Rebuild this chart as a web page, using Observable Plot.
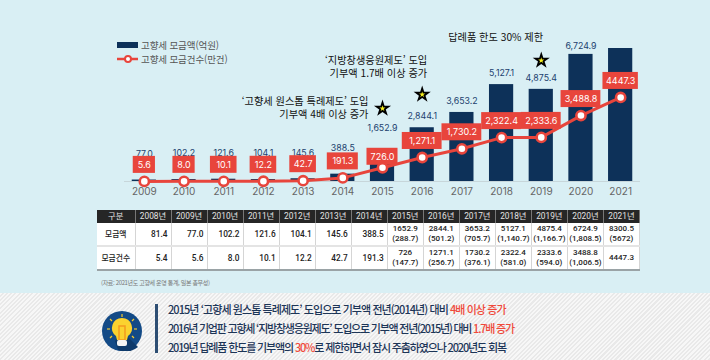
<!DOCTYPE html>
<html lang="ko"><head><meta charset="utf-8">
<script src="https://cdn.jsdelivr.net/npm/d3@7"></script>
<script src="https://cdn.jsdelivr.net/npm/@observablehq/plot@0.6"></script>
<style>
html,body{margin:0;padding:0;}
body{width:710px;height:360px;overflow:hidden;position:relative;background:#d9eff4;font-family:"Noto Sans CJK KR","Noto Sans",sans-serif;}
#chart{position:absolute;left:0;top:0;}
#chart svg{background:transparent;display:block;}
.legend{position:absolute;left:117px;font-size:9.5px;color:#555;line-height:14px;height:14px;display:flex;align-items:center;gap:3px;letter-spacing:-.1px;}
#tbl{position:absolute;left:97px;top:210px;border-collapse:collapse;table-layout:fixed;width:543px;font-family:"Roboto","Noto Sans CJK KR",sans-serif;font-size:8.3px;font-weight:500;color:#222;border-bottom:2px solid #9aa3a6;}
#tbl th{background:#262626;color:#e4e4e4;height:12.5px;padding:0;font-weight:400;border-right:1px solid #777;font-size:8.3px;line-height:12px;}
#tbl td{background:#fff;padding:0 3px;border-right:1px solid #d5d5d5;line-height:10px;text-align:right;height:22px;}
#tbl tr.r1 td{border-bottom:2px solid #e4e4e4;}
#tbl td.h,#tbl td.c{text-align:center;}
#tbl td.c{padding:0;font-size:8px;}
#tbl td.h{font-family:"Noto Sans CJK KR",sans-serif;padding:0;font-size:7.8px;}
#src{position:absolute;left:101px;top:278px;font-size:6px;color:#777;letter-spacing:-.35px;line-height:10px;}
#foot{position:absolute;left:0;top:293px;width:710px;height:67px;background:repeating-linear-gradient(135deg,#f7f7f7 0 1.5px,#e9e9e9 1.5px 3px);}
#vbar{position:absolute;left:155px;top:304px;width:3px;height:49px;background:#2d4e73;}
.note{position:absolute;left:168px;font-size:11px;font-weight:500;color:#1c3557;line-height:16px;white-space:nowrap;}
.note b{font-weight:500;color:#f0493a;}
#icon{position:absolute;left:102px;top:311px;}
</style></head><body>
<div id="chart"></div>
<div class="legend" style="top:38px"><svg width="21" height="6"><rect width="21" height="6" fill="#0d3159"/></svg><span>고향세 모금액(억원)</span></div>
<div class="legend" style="top:52px"><svg width="21" height="10"><line x1="0" x2="21" y1="5" y2="5" stroke="#e8453c" stroke-width="2.5"/><circle cx="11" cy="5" r="3" fill="#fff" stroke="#e8453c" stroke-width="2"/></svg><span>고향세 모금건수(만건)</span></div>
<table id="tbl"></table>
<div id="src">(자료: 2021년도 고향세 운영 통계, 일본 총무성)</div>
<div id="foot"></div>
<svg id="icon" width="40" height="40" viewBox="0 0 40 40">
<circle cx="20" cy="20" r="20" fill="#134a86"/>
<path d="M20 20 L36 36 A20 20 0 0 1 16 39 L13 30Z" fill="#0e3a6b"/>
<g stroke="#f6c92c" stroke-width="1.2"><line x1="20" y1="3" x2="20" y2="6"/><line x1="8" y1="8" x2="10" y2="10"/><line x1="32" y1="8" x2="30" y2="10"/><line x1="5" y1="18" x2="8" y2="18"/><line x1="35" y1="18" x2="32" y2="18"/><line x1="8" y1="27" x2="10" y2="25"/><line x1="32" y1="27" x2="30" y2="25"/></g>
<path d="M20 7 A10 10 0 0 1 26 25 L25 29 L15 29 L14 25 A10 10 0 0 1 20 7Z" fill="#fbd22f"/>
<rect x="17" y="15" width="6" height="14" fill="none" stroke="#f39a1f" stroke-width="1.5"/>
<rect x="15" y="29" width="10" height="6" rx="2" fill="#f4f4f4"/>
</svg>
<div id="vbar"></div>
<div class="note" style="top:301px;letter-spacing:-.93px">2015년 ‘고향세 원스톱 특례제도’ 도입으로 기부액 전년(2014년) 대비 <b>4배 이상 증가</b></div>
<div class="note" style="top:320px;letter-spacing:-1.22px">2016년 기업판 고향세 ‘지방창생응원제도’ 도입으로 기부액 전년(2015년) 대비 <b>1.7배 증가</b></div>
<div class="note" style="top:339px;letter-spacing:-1.15px">2019년 답례품 한도를 기부액의 <b>30%</b>로 제한하면서 잠시 주춤하였으나 2020년도 회복</div>
<script>
const years = ["2009","2010","2011","2012","2013","2014","2015","2016","2017","2018","2019","2020","2021"];
const amounts = [77.0,102.2,121.6,104.1,145.6,388.5,1652.9,2844.1,3653.2,5127.1,4875.4,6724.9,8300.5];
const counts = [5.6,8.0,10.1,12.2,42.7,191.3,726.0,1271.1,1730.2,2322.4,2333.6,3488.8,4447.3];
const amountLabels = ["77.0","102.2","121.6","104.1","145.6","388.5","1,652.9","2,844.1","3,653.2","5,127.1","4,875.4","6,724.9",""];
const countLabels = ["5.6","8.0","10.1","12.2","42.7","191.3","726.0","1,271.1","1,730.2","2,322.4","2,333.6","3,488.8","4447.3"];
const starYears = ["2015","2016","2019"];
const starLevels = [3860,4600,6400];

const tableHead = ["구분","2008년","2009년","2010년","2011년","2012년","2013년","2014년","2015년","2016년","2017년","2018년","2019년","2020년","2021년"];
const tableAmount = ["81.4","77.0","102.2","121.6","104.1","145.6","388.5","1652.9<br>(288.7)","2844.1<br>(501.2)","3653.2<br>(705.7)","5127.1<br>(1,140.7)","4875.4<br>(1,166.7)","6724.9<br>(1,808.5)","8300.5<br>(5672)"];
const tableCount = ["5.4","5.6","8.0","10.1","12.2","42.7","191.3","726<br>(147.7)","1271.1<br>(256.7)","1730.2<br>(376.1)","2322.4<br>(581.0)","2333.6<br>(594.0)","3488.8<br>(1,006.5)","4447.3"];

const rows = years.map((year,i)=>({year,amount:amounts[i],count:counts[i],amountLabel:amountLabels[i],countLabel:countLabels[i]}));
const numFont = "Inter, Roboto, sans-serif";
const krFont = '"Noto Sans CJK KR", sans-serif';

const amountLift = y => y<="2014" ? -26 : y==="2015" ? -22 : y==="2020" ? -8 : -11.5;
const boxLift = y => y==="2015" ? 11 : 16.5;
const boxMarks = rows.flatMap(d=>{
  const lift = boxLift(d.year), half = (4.4*d.countLabel.length+9)/2, ext = half-12.1;
  return [
    Plot.barY([d],{x:"year",y1:"count",y2:"count",fill:"#e8453c",insetTop:-(lift+8.5),insetBottom:lift-8.5,insetLeft:-ext,insetRight:-ext}),
    Plot.text([d],{x:"year",y:"count",text:"countLabel",dy:-lift,fill:"#fff",fontSize:9,fontFamily:numFont})
  ];
});
const amountMarks = rows.filter(d=>d.amountLabel).map(d=>
  Plot.text([d],{x:"year",y:"amount",text:"amountLabel",dy:amountLift(d.year),fill:"#1c3f6e",fontSize:8.8,fontFamily:numFont}));
const stars = starYears.map((year,i)=>({year,level:starLevels[i]}));

const plot = Plot.plot({
  width:710,height:205,marginLeft:124,marginRight:70,marginTop:48,marginBottom:24,
  style:{background:"transparent",overflow:"visible"},
  x:{type:"band",domain:years,paddingInner:.39,paddingOuter:.195,align:.5,round:false,label:null},
  y:{domain:[0,7037],clamp:true,axis:null},
  marks:[
    Plot.ruleY([0],{stroke:"#c7d6da"}),
    Plot.axisX({tickSize:0,tickPadding:6,fontSize:10,fontFamily:numFont,color:"#666",label:null}),
    Plot.barY(rows,{x:"year",y:"amount",fill:"#0d3159"}),
    ...amountMarks,
    ...boxMarks,
    Plot.line(rows,{x:"year",y:"count",stroke:"#e8453c",strokeWidth:3}),
    Plot.dot(rows,{x:"year",y:"count",r:4.6,fill:"#fff",stroke:"#e8453c",strokeWidth:2.6}),
    Plot.dot(stars,{x:"year",y:"level",symbol:"star",r:5.4,fill:"#000"}),
    Plot.dot(stars,{x:"year",y:"level",symbol:"star",r:1.9,fill:"#f7ef1e"}),
    Plot.text(["‘고향세 원스톱 특례제도’ 도입\n기부액 4배 이상 증가"],{x:()=>"2015",y:()=>3915,dx:-14,textAnchor:"end",lineHeight:1.3,fontSize:10.2,fontFamily:krFont,fill:"#111"}),
    Plot.text(["‘지방창생응원제도’ 도입\n기부액 1.7배 이상 증가"],{x:()=>"2016",y:()=>6110,dx:5,textAnchor:"end",lineHeight:1.3,fontSize:10.2,fontFamily:krFont,fill:"#111"}),
    Plot.text(["답례품 한도 30% 제한"],{x:()=>"2018",y:()=>7037,dx:-6,dy:-11,fontSize:10.2,fontFamily:krFont,fill:"#111"})
  ]
});
document.getElementById("chart").appendChild(plot);

const cls = i => i>=7 ? "c" : "";
const rowHtml = (name,vals,c)=>`<tr class="${c}"><td class="h">${name}</td>${vals.map((v,i)=>`<td class="${cls(i)}">${v}</td>`).join("")}</tr>`;
document.getElementById("tbl").innerHTML =
  `<colgroup><col style="width:38px">${tableAmount.map(()=>'<col>').join("")}</colgroup>`+
  `<tr>${tableHead.map(h=>`<th>${h}</th>`).join("")}</tr>`+
  rowHtml("모금액",tableAmount,"r1")+rowHtml("모금건수",tableCount,"r2");
</script>
</body></html>
